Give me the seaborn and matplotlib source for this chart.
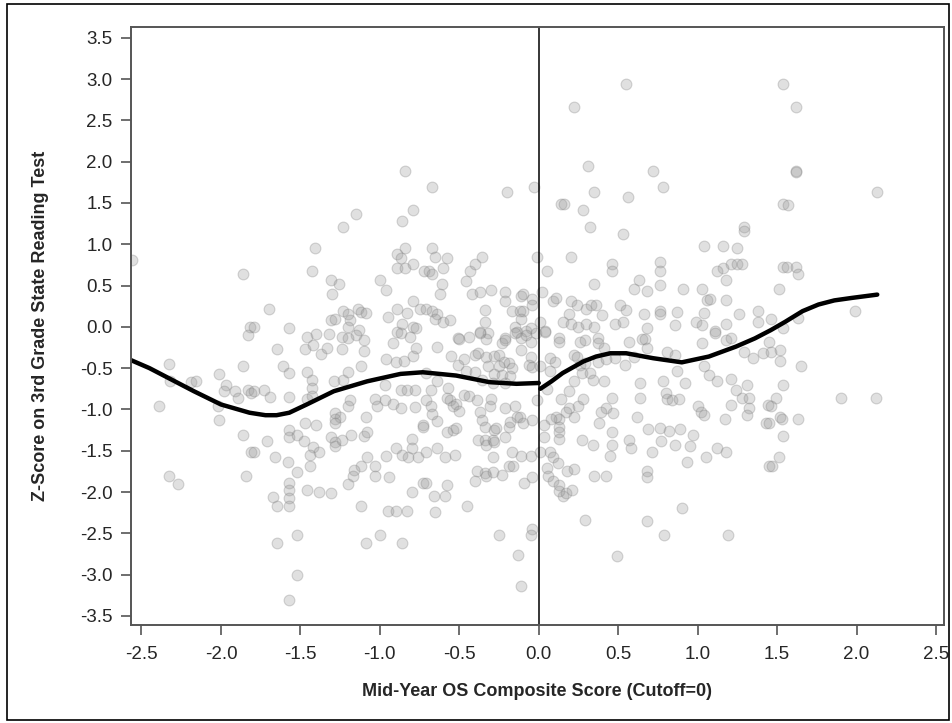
import numpy as np
import pandas as pd
import matplotlib
matplotlib.use("Agg")
import matplotlib.pyplot as plt
import seaborn as sns
from matplotlib.patches import Rectangle

# scatter points: x = mid-year composite, y = z-score
pts = [
    (-2.56,0.81),(-1.86,0.64),(-1.82,0.0),(-1.83,-0.10),
    (-2.33,-0.45),(-2.32,-0.66),(-2.39,-0.96),(-2.19,-0.67),(-2.16,-0.65),(-2.33,-1.81),(-2.27,-1.90),
    (-2.01,-0.57),(-1.97,-0.71),(-1.98,-0.78),(-1.91,-0.78),(-1.89,-0.86),(-2.02,-0.96),(-2.01,-1.13),
    (-1.86,-0.47),(-1.83,-0.77),(-1.81,-0.80),(-1.86,-1.31),(-1.81,-1.52),(-1.84,-1.81),
    (-0.84,1.89),(-1.15,1.37),(-1.23,1.21),(-0.79,1.41),(-0.86,1.28),(-1.41,0.96),(-0.84,0.96),
    (-0.89,0.88),(-0.87,0.83),(-0.89,0.71),(-0.84,0.71),(-0.79,0.76),(-1.43,0.67),(-1.31,0.57),
    (-1.26,0.52),(-1.30,0.40),(-1.0,0.57),(-0.96,0.44),(-1.70,0.21),(-1.79,0.0),(-1.57,-0.02),
    (-0.79,0.31),(-0.89,0.21),(-0.83,0.17),(-0.75,0.21),(-1.31,0.08),(-1.28,0.10),(-1.23,0.19),
    (-1.20,0.15),(-1.19,0.08),(-1.14,0.21),(-1.12,0.18),(-1.09,0.17),(-1.20,0.0),(-1.13,-0.04),
    (-1.15,-0.10),(-0.95,0.12),(-0.86,0.04),(-0.79,0.0),(-0.77,-0.02),(-0.89,-0.06),(-1.46,-0.12),
    (-1.40,-0.09),(-1.32,-0.09),(-1.24,-0.12),(-0.72,0.67),
    (-1.65,-0.27),(-1.47,-0.27),(-1.42,-0.22),(-1.37,-0.33),(-1.33,-0.26),(-1.20,-0.14),
    (-1.24,-0.27),(-1.10,-0.29),(-1.10,-0.16),(-1.61,-0.47),(-1.57,-0.56),(-1.46,-0.55),(-1.43,-0.64),
    (-1.43,-0.74),(-1.79,-0.78),(-1.73,-0.76),(-1.69,-0.85),(-1.57,-0.85),(-1.46,-0.87),(-1.43,-0.84),
    (-1.29,-0.66),(-1.23,-0.64),(-1.20,-0.55),(-1.12,-0.47),(-0.96,-0.39),(-0.90,-0.42),(-0.85,-0.41),
    (-0.79,-0.35),(-0.77,-0.26),(-0.92,-0.20),(-0.87,-0.08),(-0.81,-0.12),(-0.97,-0.70),(-0.87,-0.77),
    (-0.83,-0.76),(-0.78,-0.77),(-1.03,-0.87),(-0.97,-0.88),(-0.92,-0.94),(-0.87,-0.98),(-0.78,-0.97),
    (-1.02,-0.96),(-1.19,-0.88),(-1.20,-0.96),(-1.28,-1.04),(-1.25,-1.09),(-1.28,-1.11),(-1.28,-1.17),
    (-1.40,-1.19),(-1.47,-1.17),(-1.09,-1.09),(-1.57,-1.25),(-1.57,-1.33),(-1.52,-1.31),(-1.48,-1.38),
    (-1.71,-1.38),(-1.79,-1.52),(-1.66,-1.58),(-1.58,-1.64),(-1.52,-1.76),(-1.31,-1.33),(-1.28,-1.39),
    (-1.28,-1.44),(-1.24,-1.37),(-1.18,-1.31),(-1.10,-1.32),(-1.08,-1.27),(-1.42,-1.46),(-1.44,-1.55),
    (-1.38,-1.51),(-1.44,-1.68),(-1.08,-1.57),(-1.12,-1.68),(-1.16,-1.73),(-1.17,-1.81),(-1.20,-1.90),
    (-1.03,-1.68),(-1.03,-1.81),(-0.94,-1.82),(-0.96,-1.56),(-0.90,-1.47),(-0.86,-1.55),(-0.82,-1.57),
    (-0.76,-1.58),(-0.80,-1.36),(-0.80,-1.47),(-1.57,-1.89),(-1.57,-1.98),(-1.57,-2.07),(-1.57,-2.17),
    (-1.67,-2.06),(-1.65,-2.17),(-1.46,-1.98),(-1.38,-2.0),(-1.31,-2.01),(-0.80,-2.0),(-1.12,-2.17),
    (-0.95,-2.23),(-0.90,-2.23),(-0.83,-2.23),(-1.65,-2.62),(-1.52,-2.52),(-1.09,-2.62),(-1.0,-2.52),
    (-0.86,-2.62),(-1.52,-3.0),(-1.57,-3.31),(-0.73,-1.19),(-0.73,-1.89),
    (0.22,2.66),(0.31,1.95),(0.35,1.63),(0.14,1.49),(0.16,1.49),(0.28,1.41),(0.32,1.21),(-0.67,1.69),
    (-0.20,1.63),(-0.03,1.69),(-0.67,0.96),(-0.65,0.85),(-0.58,0.83),(-0.60,0.71),(-0.69,0.67),
    (-0.67,0.64),(-0.61,0.52),(-0.62,0.40),(-0.46,0.56),(-0.43,0.68),(-0.40,0.76),(-0.36,0.84),
    (-0.42,0.40),(-0.37,0.42),(-0.30,0.44),(-0.21,0.42),(-0.21,0.31),(-0.11,0.37),(-0.10,0.40),
    (-0.04,0.34),(-0.04,0.27),(-0.01,0.84),(0.05,0.68),(0.20,0.84),(0.35,0.52),(0.02,0.42),(0.09,0.31),
    (0.11,0.35),(0.20,0.31),(0.24,0.27),(0.30,0.21),(0.33,0.27),(0.36,0.27),(0.19,0.15),(0.15,0.06),
    (0.20,0.04),(0.25,0.0),(0.30,0.04),(0.35,0.0),(0.01,0.06),(0.04,-0.05),(0.13,-0.14),(-0.71,0.21),
    (-0.67,0.19),(-0.64,0.15),(-0.65,0.10),(-0.60,0.06),(-0.56,0.08),(-0.34,0.20),(-0.34,0.06),
    (-0.37,-0.06),(-0.32,-0.08),(-0.17,0.19),(-0.12,0.19),(-0.10,0.19),(-0.11,0.10),(-0.15,0.0),
    (-0.14,-0.06),(-0.08,-0.05),(-0.05,-0.02),(-0.51,-0.14),(-0.44,-0.12),(-0.21,-0.14),
    (-0.64,-0.25),(-0.50,-0.15),(-0.33,-0.15),(-0.37,-0.07),(-0.23,-0.19),(-0.21,-0.16),(-0.15,-0.08),
    (-0.11,-0.14),(-0.08,-0.10),(-0.05,-0.18),(-0.02,-0.08),(-0.55,-0.35),(-0.47,-0.39),(-0.40,-0.34),
    (-0.38,-0.32),(-0.33,-0.36),(-0.28,-0.35),(-0.25,-0.34),(-0.22,-0.42),(-0.19,-0.44),(-0.11,-0.28),
    (-0.05,-0.36),(-0.51,-0.46),(-0.32,-0.47),(-0.25,-0.48),(-0.17,-0.50),(-0.06,-0.46),(-0.04,-0.49),
    (-0.71,-0.56),(-0.64,-0.66),(-0.57,-0.74),(-0.68,-0.76),(-0.46,-0.54),(-0.40,-0.55),(-0.36,-0.64),
    (-0.28,-0.57),(-0.23,-0.58),(-0.18,-0.60),(-0.29,-0.68),(-0.21,-0.68),(-0.71,-0.88),(-0.68,-0.96),
    (-0.58,-0.86),(-0.56,-0.89),(-0.54,-0.96),(-0.52,-0.94),(-0.50,-1.02),(-0.47,-0.82),(-0.44,-0.84),
    (-0.39,-0.88),(-0.31,-0.96),(-0.30,-0.87),(-0.21,-0.98),(-0.15,-0.96),(-0.14,-1.09),(-0.12,-1.09),
    (-0.10,-1.17),(-0.04,-1.13),(-0.01,-0.88),(-0.73,-1.21),(-0.64,-1.14),(-0.58,-1.27),(-0.54,-1.25),
    (-0.52,-1.23),(-0.67,-1.05),(-0.37,-1.03),(-0.36,-1.13),(-0.34,-1.21),(-0.28,-1.25),(-0.27,-1.23),
    (-0.19,-1.21),(-0.18,-1.15),(-0.38,-1.37),(-0.34,-1.37),(-0.33,-1.43),(-0.29,-1.37),(-0.28,-1.39),
    (-0.21,-1.33),(-0.71,-1.51),(-0.64,-1.47),(-0.59,-1.58),(-0.53,-1.55),(-0.29,-1.57),(-0.17,-1.51),
    (-0.11,-1.56),(-0.05,-1.56),(-0.39,-1.75),(-0.34,-1.77),(-0.33,-1.81),(-0.29,-1.76),(-0.23,-1.79),
    (-0.19,-1.69),(-0.16,-1.68),(-0.40,-1.87),(-0.09,-1.89),(-0.04,-1.82),(-0.71,-1.89),(-0.58,-1.91),
    (-0.66,-2.05),(-0.59,-2.05),(-0.65,-2.24),(-0.45,-2.17),(-0.25,-2.52),(-0.04,-2.45),(-0.05,-2.52),
    (-0.13,-2.76),(-0.11,-3.14),
    (0.04,-0.06),(0.13,-0.18),(0.07,-0.38),(0.10,-0.42),(0.01,-0.48),(0.07,-0.54),(0.26,-0.18),
    (0.29,-0.16),(0.22,-0.34),(0.24,-0.36),(0.26,-0.46),(0.27,-0.56),(0.32,-0.56),(0.29,-0.44),
    (0.34,-0.64),(0.22,-0.66),(0.05,-0.75),(0.14,-0.87),(0.19,-0.78),(0.19,-0.98),(0.17,-1.03),
    (0.13,-1.11),(0.11,-1.09),(0.08,-1.11),(0.22,-1.09),(0.25,-0.96),(0.28,-0.87),(0.03,-1.19),
    (0.13,-1.21),(0.13,-1.27),(0.13,-1.36),(0.03,-1.33),(0.27,-1.37),(0.34,-1.43),(0.07,-1.51),
    (0.09,-1.57),(0.12,-1.65),(0.01,-1.51),(0.05,-1.71),(0.06,-1.81),(0.09,-1.87),(0.13,-1.91),
    (0.15,-2.05),(0.13,-1.99),(0.17,-2.01),(0.21,-1.97),(0.18,-1.75),(0.22,-1.72),(0.35,-1.81),
    (0.29,-2.34),
    (0.55,2.94),(0.72,1.89),(0.78,1.69),(0.56,1.57),(0.53,1.12),(1.29,1.21),(1.29,1.16),(1.04,0.98),
    (1.16,0.98),(1.25,0.96),(1.21,0.76),(1.25,0.76),(1.28,0.76),(1.16,0.71),(1.12,0.67),(1.18,0.57),
    (0.46,0.76),(0.46,0.67),(0.76,0.79),(0.76,0.68),(0.76,0.51),(0.63,0.57),(0.60,0.46),(0.68,0.43),
    (0.91,0.46),(1.03,0.46),(1.06,0.33),(1.08,0.34),(1.18,0.33),(0.51,0.27),(0.55,0.20),(0.66,0.15),
    (0.76,0.19),(0.76,0.15),(0.87,0.18),(0.40,0.14),(0.48,0.04),(0.53,0.06),(0.68,-0.02),(0.86,0.02),
    (0.99,0.06),(1.04,0.17),(1.03,0.02),(1.11,-0.05),(1.18,0.03),(1.26,0.15),(1.38,0.19),(1.38,0.06),
    (1.46,0.10),
    (0.37,-0.14),(0.37,-0.20),(0.41,-0.26),(0.57,-0.18),(0.65,-0.15),(0.67,-0.15),(0.68,-0.26),
    (0.81,-0.30),(0.86,-0.34),(1.03,-0.19),(1.11,-0.07),(1.18,-0.16),(1.21,-0.14),(1.29,-0.30),
    (1.35,-0.38),(1.41,-0.32),(0.48,-0.38),(0.54,-0.46),(0.60,-0.36),(0.37,-0.42),(0.42,-0.39),
    (0.87,-0.54),(1.04,-0.47),(1.07,-0.58),(1.12,-0.65),(1.21,-0.63),(1.31,-0.70),(1.24,-0.77),
    (1.28,-0.86),(1.32,-0.86),(1.32,-0.98),(1.31,-1.07),(1.21,-0.95),(1.17,-1.11),(1.43,-1.16),
    (1.44,-0.95),(1.45,-1.69),(0.78,-0.66),(0.64,-0.68),(0.92,-0.68),(0.80,-0.80),(0.81,-0.87),
    (0.84,-0.89),(0.88,-0.87),(1.0,-0.96),(1.02,-1.03),(1.04,-1.07),(0.41,-0.66),(0.46,-0.86),
    (0.42,-0.98),(0.39,-1.03),(0.47,-1.04),(0.38,-1.17),(0.62,-1.09),(0.64,-0.86),(0.46,-1.27),
    (0.46,-1.43),(0.45,-1.56),(0.57,-1.37),(0.58,-1.47),(0.69,-1.24),(0.76,-1.23),(0.82,-1.26),
    (0.89,-1.24),(0.97,-1.31),(0.77,-1.38),(0.71,-1.52),(0.86,-1.43),(0.95,-1.44),(0.93,-1.64),
    (1.05,-1.57),(1.12,-1.47),(1.18,-1.51),(0.42,-1.80),(0.68,-1.75),(0.68,-1.82),(0.90,-2.19),
    (0.68,-2.35),(0.79,-2.52),(1.19,-2.52),(0.49,-2.77),
    (1.54,2.94),(1.62,2.66),(1.62,1.89),(1.62,1.88),(2.13,1.63),(1.54,1.49),(1.57,1.47),(1.54,0.72),
    (1.56,0.73),(1.62,0.72),(1.63,0.64),(1.51,0.46),(1.99,0.19),(1.63,0.11),(1.54,-0.02),(1.45,-0.18),
    (1.46,-0.30),(1.52,-0.28),(1.52,-0.41),(1.65,-0.47),(1.54,-0.71),(1.49,-0.86),(1.46,-0.96),
    (1.45,-1.16),(1.52,-1.09),(1.53,-1.11),(1.63,-1.11),(1.54,-1.32),(1.51,-1.57),(1.47,-1.68),
    (1.90,-0.86),(2.12,-0.86),
]
score = [p[0] for p in pts]
zscore = [p[1] for p in pts]

# fitted curve on each side of the cutoff
left_x = [-2.57, -2.45, -2.33, -2.17, -2.0, -1.82, -1.72, -1.65, -1.57, -1.46, -1.29, -1.08, -0.87, -0.73, -0.52, -0.31, -0.14, 0.0]
left_y = [-0.40, -0.50, -0.62, -0.78, -0.94, -1.04, -1.07, -1.07, -1.04, -0.94, -0.78, -0.66, -0.57, -0.55, -0.59, -0.67, -0.69, -0.68]
right_x = [0.01, 0.08, 0.15, 0.28, 0.36, 0.45, 0.55, 0.72, 0.90, 1.07, 1.24, 1.36, 1.46, 1.55, 1.66, 1.76, 1.86, 1.97, 2.13]
right_y = [-0.75, -0.66, -0.56, -0.42, -0.36, -0.32, -0.32, -0.38, -0.43, -0.36, -0.24, -0.14, -0.04, 0.06, 0.19, 0.27, 0.32, 0.35, 0.39]

xticks = np.arange(-2.5, 2.51, 0.5)
yticks = np.arange(-3.5, 3.51, 0.5)

sns.set_style("ticks")
plt.rcParams['font.family'] = ['Liberation Sans', 'DejaVu Sans']

fig = plt.figure(figsize=(9.52, 7.23), dpi=100)
ax = fig.add_axes([131/952, 1 - 625/723, (944-131)/952, (625-27)/723])

df = pd.DataFrame({"x": score, "y": zscore})
sns.scatterplot(data=df, x="x", y="y", ax=ax, s=60, color="#9a9a9a", alpha=0.3,
                edgecolor="#7a7a7a", linewidth=0.8)

sns.lineplot(x=left_x, y=left_y, ax=ax, color="black", linewidth=3.2, sort=False)
sns.lineplot(x=right_x, y=right_y, ax=ax, color="black", linewidth=3.2, sort=False)
ax.axvline(0, color="black", linewidth=1.1)

ax.set_xlim(-2.566, 2.55)
ax.set_ylim(-3.61, 3.63)
ax.set_xticks(xticks)
ax.set_yticks(yticks)
ax.set_xticklabels([f"{v:.1f}" for v in xticks], fontsize=13.5)
ax.set_yticklabels([f"{v:.1f}" for v in yticks], fontsize=13.5)
ax.tick_params(length=7.2, width=1.2, color="#555555")
ax.tick_params(axis="x", pad=8)
ax.tick_params(axis="y", pad=6)
for sp in ax.spines.values():
    sp.set_color("#555555")
    sp.set_linewidth(1.4)

ax.set_xlabel("Mid-Year OS Composite Score (Cutoff=0)", fontsize=13, fontweight="bold", labelpad=14)
ax.set_ylabel("Z-Score on 3rd Grade State Reading Test", fontsize=13, fontweight="bold", labelpad=22)

fig.patches.append(Rectangle((0.007, 0.004), 0.99, 0.99, transform=fig.transFigure,
                             fill=False, edgecolor="black", linewidth=1.2))

fig.savefig("out.png", dpi=100)
